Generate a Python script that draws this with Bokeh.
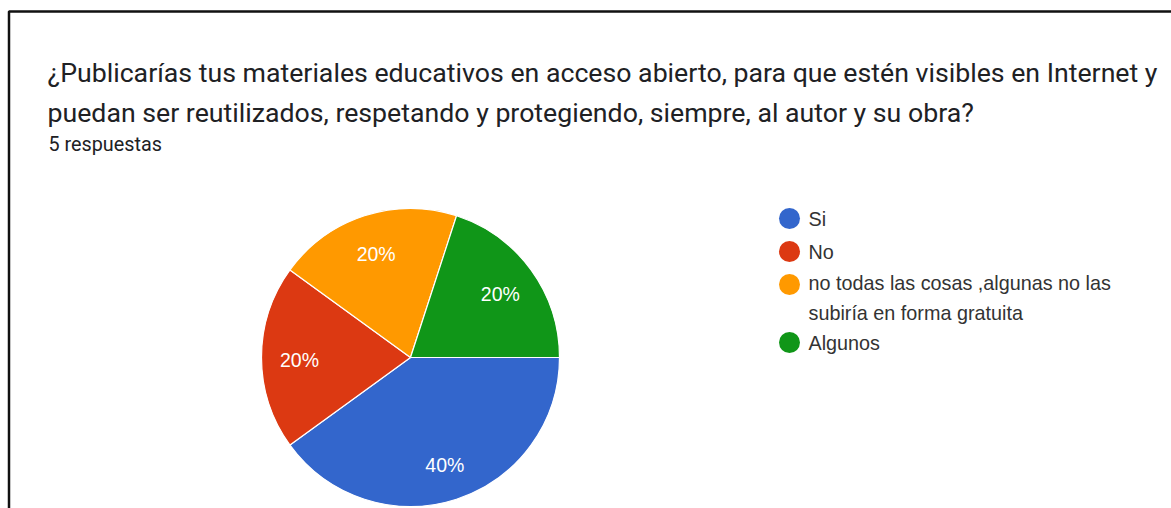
import math
from bokeh.plotting import figure
from bokeh.models import Range1d, ColumnDataSource, Label
from bokeh.core.properties import value
from bokeh.embed import file_html
from bokeh.resources import INLINE

# Survey answers (5 responses)
categories = ["Si", "No", "no todas las cosas ,algunas no las\nsubiría en forma gratuita", "Algunos"]
counts = [2, 1, 1, 1]
colors = ["#3366CC", "#DC3912", "#FF9900", "#109618"]

title_lines = [
    "¿Publicarías tus materiales educativos en acceso abierto, para que estén visibles en Internet y",
    "puedan ser reutilizados,  respetando y protegiendo, siempre, al autor y su obra?",
]
subtitle = "5 respuestas"

W, H = 1171, 508


def Y(py):
    # convert a top-down pixel row to the plot's bottom-up y value
    return H - py


p = figure(width=W, height=H, output_backend="svg", toolbar_location=None,
           x_range=Range1d(0, W), y_range=Range1d(0, H),
           min_border=0, outline_line_color=None)
p.axis.visible = False
p.grid.visible = False
p.background_fill_color = "white"
p.border_fill_color = "white"

# card frame
p.quad(left=8.5, right=W + 20, top=Y(11), bottom=-20,
       fill_color=None, line_color="#111111", line_width=2.5)

# heading
for i, line in enumerate(title_lines):
    p.add_layout(Label(x=47, y=Y(72 + 40 * i), text=line, text_font="Roboto",
                       text_font_size="26.7px", text_color="#202124",
                       text_baseline="alphabetic"))
p.add_layout(Label(x=48, y=Y(144), text=subtitle, text_font="Roboto",
                   text_font_size="19.8px", text_color="#202124",
                   text_baseline="alphabetic"))

# pie: start at 3 o'clock, run clockwise
cx, cy, r = 410, Y(357), 149
total = sum(counts)
starts, ends, lx, ly, pct = [], [], [], [], []
acc = 0.0
for c in counts:
    a0 = -2 * math.pi * acc / total
    acc += c
    a1 = -2 * math.pi * acc / total
    starts.append(a0)
    ends.append(a1)
    mid = (a0 + a1) / 2
    lx.append(cx + 0.745 * r * math.cos(mid))
    ly.append(cy + 0.745 * r * math.sin(mid) - 2)
    pct.append(f"{round(100 * c / total)}%")

src = ColumnDataSource(dict(start=starts, end=ends, color=colors,
                            lx=lx, ly=ly, pct=pct))
p.wedge(x=cx, y=cy, radius=r, start_angle="start", end_angle="end",
        direction="clock", fill_color="color", line_color="white",
        line_width=1.2, source=src)
p.text(x="lx", y="ly", text="pct", source=src, text_color="white",
       text_font=value("Liberation Sans"), text_font_size="19.5px",
       text_align="center", text_baseline="middle")

# legend: swatch at the first line, text block centred on its own lines
leg_x, leg_y0, row, line_gap = 789, 218, 33, 27
mx, my, tx, ty, labels = [], [], [], [], []
cur = leg_y0
for cat in categories:
    extra_lines = cat.count("\n")
    mx.append(leg_x)
    my.append(Y(cur))
    tx.append(leg_x + 19)
    ty.append(Y(cur + line_gap * extra_lines / 2))
    labels.append(cat)
    cur += row + line_gap * extra_lines - (2 if extra_lines else 0)

lsrc = ColumnDataSource(dict(mx=mx, my=my, tx=tx, ty=ty, label=labels, color=colors))
p.scatter(x="mx", y="my", size=21, marker="circle", fill_color="color",
          line_color=None, source=lsrc)
p.text(x="tx", y="ty", text="label", source=lsrc, text_color="#333333",
       text_font=value("Liberation Sans"), text_font_size="19.8px",
       text_align="left", text_baseline="middle", text_line_height=1.36)

open("out.html", "w").write(file_html(p, INLINE))
